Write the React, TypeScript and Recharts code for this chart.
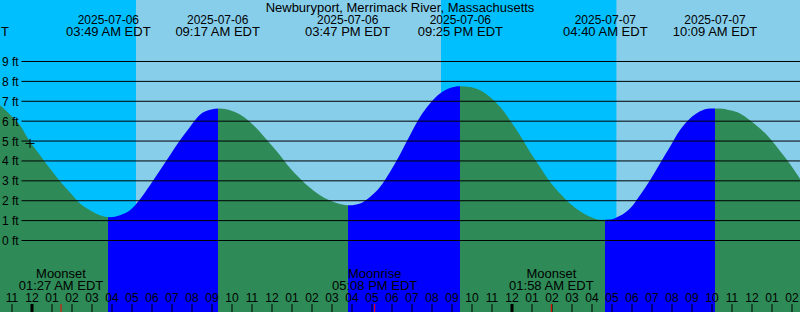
import React from "react"
import { ComposedChart, Area, XAxis, YAxis, ReferenceArea, ReferenceLine, ReferenceDot } from "recharts"

const STATION = "Newburyport, Merrimack River, Massachusetts"

// time axis: hours since 2025-07-06 00:00 EDT
const X_MIN = -1.6
const X_MAX = 38.4
const Y_MIN = -3.595
const Y_MAX = 12.092

// tide height (ft) read every half hour off the curve
const sampleHours = [
  -1.6, -1.1, -0.6, -0.1, 0.4, 0.9, 1.4, 1.9, 2.4, 2.9,
  3.4, 3.9, 4.4, 4.9, 5.4, 5.9, 6.4, 6.9, 7.4, 7.9,
  8.4, 8.9, 9.4, 9.9, 10.4, 10.9, 11.4, 11.9, 12.4, 12.9,
  13.4, 13.9, 14.4, 14.9, 15.4, 15.9, 16.4, 16.9, 17.4, 17.9,
  18.4, 18.9, 19.4, 19.9, 20.4, 20.9, 21.4, 21.9, 22.4, 22.9,
  23.4, 23.9, 24.4, 24.9, 25.4, 25.9, 26.4, 26.9, 27.4, 27.9,
  28.4, 28.9, 29.4, 29.9, 30.4, 30.9, 31.4, 31.9, 32.4, 32.9,
  33.4, 33.9, 34.4, 34.9, 35.4, 35.9, 36.4, 36.9, 37.4, 37.9,
  38.4,
]
const sampleHeights = [
  6.8, 6.33, 5.8, 4.96, 4.29, 3.62, 2.98, 2.41, 1.86, 1.52,
  1.27, 1.17, 1.27, 1.52, 2.08, 2.78, 3.53, 4.29, 5.04, 5.71,
  6.32, 6.57, 6.64, 6.55, 6.33, 5.96, 5.46, 4.88, 4.29, 3.65,
  3.12, 2.65, 2.28, 2.01, 1.84, 1.77, 1.86, 2.19, 2.69, 3.45,
  4.33, 5.29, 6.21, 6.89, 7.39, 7.67, 7.76, 7.72, 7.56, 7.22,
  6.72, 6.05, 5.29, 4.45, 3.7, 2.95, 2.36, 1.86, 1.47, 1.19,
  1.04, 1.05, 1.24, 1.61, 2.28, 3.03, 3.87, 4.71, 5.55, 6.13,
  6.5, 6.64, 6.64, 6.55, 6.39, 6.05, 5.63, 5.13, 4.5, 3.85,
  3.1,
]

// high / low tides
const tideHours = [3.817, 9.283, 15.783, 21.417, 28.667, 34.15]
const tideKinds = ["low", "high", "low", "high", "low", "high"]
const tideDates = ["2025-07-06", "2025-07-06", "2025-07-06", "2025-07-06", "2025-07-07", "2025-07-07"]
const tideTimes = ["03:49 AM EDT", "09:17 AM EDT", "03:47 PM EDT", "09:25 PM EDT", "04:40 AM EDT", "10:09 AM EDT"]

// night (sunset -> sunrise)
const nightStarts = [-1.6, 20.45]
const nightEnds = [5.2, 29.22]

const moonHours = [1.45, 17.133, 25.967]
const moonEvents = ["Moonset", "Moonrise", "Moonset"]
const moonTimes = ["01:27 AM EDT", "05:08 PM EDT", "01:58 AM EDT"]

const hourTicks = [
  -1, 0, 1, 2, 3, 4, 5, 6, 7, 8, 9, 10, 11, 12, 13, 14, 15, 16, 17, 18, 19,
  20, 21, 22, 23, 24, 25, 26, 27, 28, 29, 30, 31, 32, 33, 34, 35, 36, 37, 38,
]
const feetTicks = [0, 1, 2, 3, 4, 5, 6, 7, 8, 9]

const nowHour = -0.1
const nowHeight = 4.88

const FONT = "'Liberation Sans', Arial, sans-serif"
const DAY = "#87CEEB"
const NIGHT = "#00BFFF"
const FALLING = "#2E8B57"
const RISING = "#0000FF"
const W = 800
const H = 312

const data = sampleHours.map((t, i) => ({ t, height: sampleHeights[i] }))

const frac = (h: number) => (h - X_MIN) / (X_MAX - X_MIN)

// hard colour stops: falling = green, rising = blue
const tideStops: Array<{ offset: number; color: string }> = []
let current = FALLING
tideHours.forEach((h, i) => {
  const next = tideKinds[i] === "low" ? RISING : FALLING
  tideStops.push({ offset: frac(h), color: current })
  tideStops.push({ offset: frac(h), color: next })
  current = next
})

const hourLabel = (h: number) => {
  const hh = ((h % 24) + 24) % 24
  const twelve = hh % 12 === 0 ? 12 : hh % 12
  return String(twelve).padStart(2, "0")
}

const HourTick = ({ x, payload }: any) => {
  const midnight = payload.value % 24 === 0
  return (
    <g>
      <line x1={x} x2={x} y1={304} y2={312} stroke="#000" strokeWidth={midnight ? 3 : 1} />
      <text x={x} y={302} textAnchor="middle" fontSize={12} fontFamily={FONT} fill="#000">
        {hourLabel(payload.value)}
      </text>
    </g>
  )
}

const TideTick = ({ x, payload }: any) => {
  const i = tideHours.indexOf(payload.value)
  return (
    <g fontFamily={FONT} fill="#000">
      <text x={x} y={24} textAnchor="middle" fontSize={12}>{tideDates[i]}</text>
      <text x={x} y={36} textAnchor="middle" fontSize={13}>{tideTimes[i]}</text>
    </g>
  )
}

const MoonTick = ({ x, payload }: any) => {
  const i = moonHours.indexOf(payload.value)
  return (
    <g fontSize={13} fontFamily={FONT} fill="#000">
      <line x1={x} x2={x} y1={304} y2={312} stroke="#ff0000" strokeWidth={1} />
      <text x={x} y={278} textAnchor="middle">{moonEvents[i]}</text>
      <text x={x} y={290} textAnchor="middle">{moonTimes[i]}</text>
    </g>
  )
}

const FeetTick = ({ y, payload }: any) => (
  <text x={2} y={y + 4.5} fontSize={12} fontFamily={FONT} fill="#000">
    {payload.value} ft
  </text>
)

const Cross = ({ cx, cy }: any) => (
  <g stroke="#000" strokeWidth={1}>
    <line x1={cx - 4.5} x2={cx + 4.5} y1={cy} y2={cy} />
    <line x1={cx} x2={cx} y1={cy - 4.5} y2={cy + 4.5} />
  </g>
)

export default function App() {
  return (
    <div style={{ position: "absolute", left: 0, top: 0, width: W, height: H, background: DAY, overflow: "hidden" }}>
      <ComposedChart width={W} height={H} data={data} margin={{ top: 0, right: 0, bottom: 0, left: 0 }}>
        <defs>
          <linearGradient id="tideFill" gradientUnits="userSpaceOnUse" x1={0} y1={0} x2={W} y2={0}>
            {tideStops.map((s, i) => (
              <stop key={i} offset={s.offset} stopColor={s.color} />
            ))}
            <stop offset={1} stopColor={current} />
          </linearGradient>
        </defs>
        <XAxis
          dataKey="t"
          type="number"
          domain={[X_MIN, X_MAX]}
          ticks={hourTicks}
          interval={0}
          mirror
          axisLine={false}
          tickLine={false}
          tick={<HourTick />}
        />
        <XAxis
          xAxisId="tides"
          dataKey="t"
          type="number"
          orientation="top"
          domain={[X_MIN, X_MAX]}
          allowDataOverflow
          ticks={tideHours}
          interval={0}
          mirror
          axisLine={false}
          tickLine={false}
          tick={<TideTick />}
        />
        <XAxis
          xAxisId="moon"
          dataKey="t"
          type="number"
          domain={[X_MIN, X_MAX]}
          allowDataOverflow
          ticks={moonHours}
          interval={0}
          mirror
          axisLine={false}
          tickLine={false}
          tick={<MoonTick />}
        />
        <YAxis
          type="number"
          domain={[Y_MIN, Y_MAX]}
          ticks={feetTicks}
          interval={0}
          mirror
          axisLine={false}
          tickLine={false}
          tick={<FeetTick />}
        />
        {nightStarts.map((s, i) => (
          <ReferenceArea
            key={`night-${i}`}
            x1={s}
            x2={nightEnds[i]}
            y1={Y_MIN}
            y2={Y_MAX}
            fill={NIGHT}
            fillOpacity={1}
            stroke="none"
            zIndex={-50}
          />
        ))}
        <Area
          dataKey="height"
          type="monotone"
          baseValue={Y_MIN}
          stroke="none"
          fill="url(#tideFill)"
          fillOpacity={1}
          isAnimationActive={false}
          dot={false}
          activeDot={false}
        />
        {feetTicks.map((ft) => (
          <ReferenceLine
            key={`grid-${ft}`}
            segment={[{ x: -0.525, y: ft }, { x: X_MAX, y: ft }]}
            stroke="#000"
            strokeWidth={1}
            zIndex={400}
          />
        ))}
        <ReferenceDot x={nowHour} y={nowHeight} r={4} shape={<Cross />} zIndex={600} />
      </ComposedChart>
      <svg width={W} height={H} style={{ position: "absolute", left: 0, top: 0, pointerEvents: "none" }}>
        <text x={W / 2} y={12} textAnchor="middle" fontSize={13} fontFamily={FONT} fill="#000">
          {STATION}
        </text>
        <text x={1} y={36} fontSize={13} fontFamily={FONT} fill="#000">
          T
        </text>
      </svg>
    </div>
  )
}
